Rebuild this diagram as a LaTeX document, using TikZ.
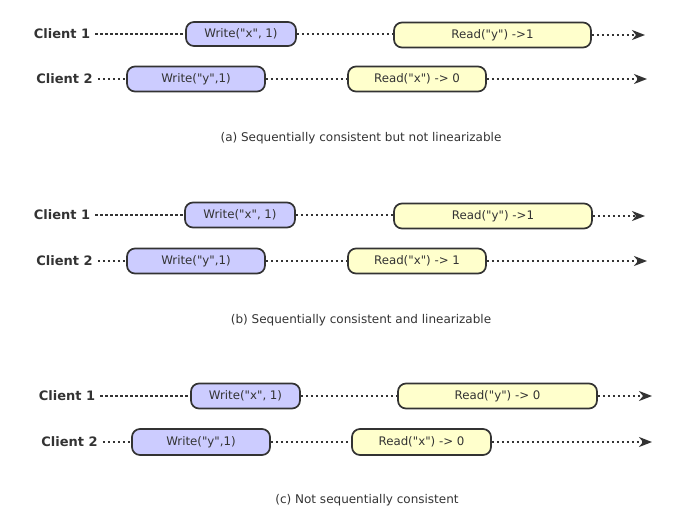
\documentclass[tikz,border=0pt]{standalone}
\usepackage{fontspec}
\setmainfont{DejaVu Sans}
\usetikzlibrary{arrows.meta}
\definecolor{wfill}{HTML}{CCCCFF}
\definecolor{rfill}{HTML}{FFFFCC}
\definecolor{edge}{HTML}{333333}
\newcommand\qq{\textquotedbl}
\tikzset{
  op/.style={draw=edge, line width=1.7pt, rounded corners=8pt, inner sep=0pt,
    font=\fontsize{11.8}{13}\selectfont, text=edge},
  wop/.style={op, fill=wfill},
  rop/.style={op, fill=rfill},
  client/.style={font=\bfseries\fontsize{13}{15}\selectfont, text=edge, inner sep=0pt},
  captext/.style={font=\fontsize{12}{14}\selectfont, text=edge, inner sep=0pt},
  tl/.style={draw=edge, line width=2pt, dash pattern=on 2.5pt off 2.5pt},
  tla/.style={tl, -{Stealth[length=13pt,width=10pt,inset=4pt]}},
}
\begin{document}
\begin{tikzpicture}[x=1pt,y=-1pt]
\useasboundingbox (0,0) rectangle (675,523);
% ---------- panel (a)
\node[client] (c1a) at (62,34) {Client 1};
\node[wop, minimum width=110pt, minimum height=24pt] (w1a) at (241,34) {Write(\qq x\qq, 1)};
\node[rop, minimum width=197pt, minimum height=25pt] (r1a) at (492.5,35) {Read(\qq y\qq) ->1};
\coordinate (e1a) at (645,35);
\draw[tl] ([xshift=5pt]c1a.east) -- (w1a.west);
\draw[tl] (w1a.east) -- ([yshift=1pt]r1a.west);
\draw[tla] (r1a.east) -- (e1a);
\node[client] (c2a) at (64.5,79) {Client 2};
\node[wop, minimum width=138pt, minimum height=25pt] (w2a) at (196,79) {Write(\qq y\qq,1)};
\node[rop, minimum width=138pt, minimum height=25pt] (r2a) at (417,79) {Read(\qq x\qq) -> 0};
\coordinate (e2a) at (647,79);
\draw[tl] ([xshift=5pt]c2a.east) -- (w2a.west);
\draw[tl] (w2a.east) -- (r2a.west);
\draw[tla] (r2a.east) -- (e2a);
\node[captext] (capa) at (361,138) {(a) Sequentially consistent but not linearizable};
% ---------- panel (b)
\node[client] (c1b) at (62,215) {Client 1};
\node[wop, minimum width=110pt, minimum height=25pt] (w1b) at (240,215) {Write(\qq x\qq, 1)};
\node[rop, minimum width=198pt, minimum height=25pt] (r1b) at (493,216) {Read(\qq y\qq) ->1};
\coordinate (e1b) at (645,216);
\draw[tl] ([xshift=5pt]c1b.east) -- (w1b.west);
\draw[tl] (w1b.east) -- ([yshift=1pt]r1b.west);
\draw[tla] (r1b.east) -- (e1b);
\node[client] (c2b) at (64.5,261) {Client 2};
\node[wop, minimum width=138pt, minimum height=25pt] (w2b) at (196,261) {Write(\qq y\qq,1)};
\node[rop, minimum width=138pt, minimum height=25pt] (r2b) at (417,261) {Read(\qq x\qq) -> 1};
\coordinate (e2b) at (647,261);
\draw[tl] ([xshift=5pt]c2b.east) -- (w2b.west);
\draw[tl] (w2b.east) -- (r2b.west);
\draw[tla] (r2b.east) -- (e2b);
\node[captext] (capb) at (361,320) {(b) Sequentially consistent and linearizable};
% ---------- panel (c)
\node[client] (c1c) at (67,396) {Client 1};
\node[wop, minimum width=109pt, minimum height=25pt] (w1c) at (245.5,396) {Write(\qq x\qq, 1)};
\node[rop, minimum width=199pt, minimum height=25pt] (r1c) at (497.5,396) {Read(\qq y\qq) -> 0};
\coordinate (e1c) at (652,396);
\draw[tl] ([xshift=5pt]c1c.east) -- (w1c.west);
\draw[tl] (w1c.east) -- (r1c.west);
\draw[tla] (r1c.east) -- (e1c);
\node[client] (c2c) at (69.5,442) {Client 2};
\node[wop, minimum width=138pt, minimum height=26pt] (w2c) at (201,442) {Write(\qq y\qq,1)};
\node[rop, minimum width=139pt, minimum height=26pt] (r2c) at (421.5,442) {Read(\qq x\qq) -> 0};
\coordinate (e2c) at (652,442);
\draw[tl] ([xshift=5pt]c2c.east) -- (w2c.west);
\draw[tl] (w2c.east) -- (r2c.west);
\draw[tla] (r2c.east) -- (e2c);
\node[captext] (capc) at (367,500) {(c) Not sequentially consistent};
\end{tikzpicture}
\end{document}
